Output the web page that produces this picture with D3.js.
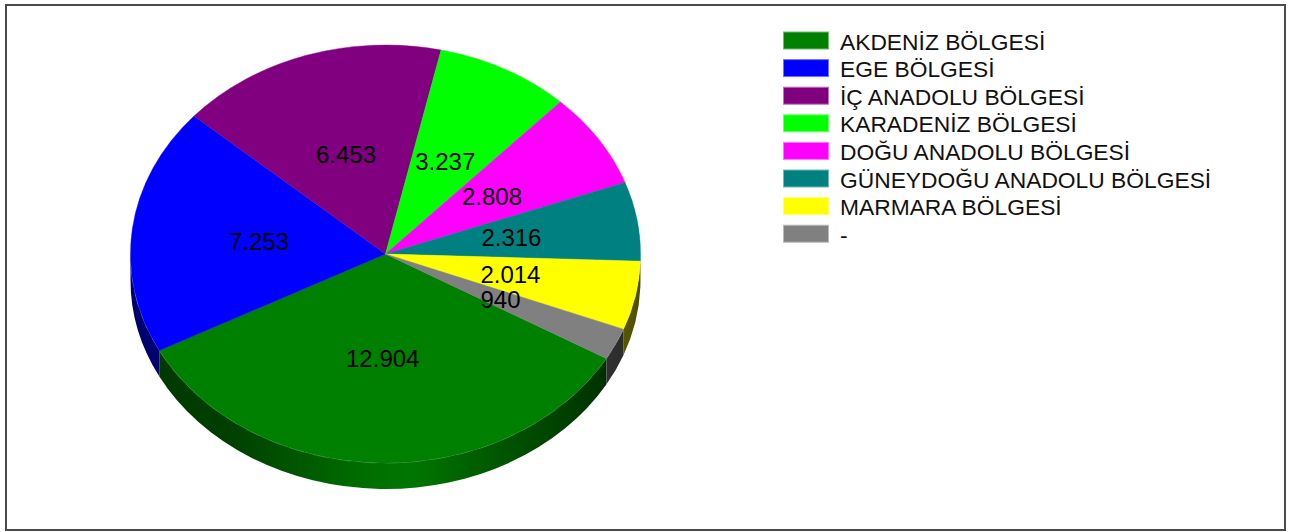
<!DOCTYPE html>
<html>
<head>
<meta charset="utf-8">
<script src="https://cdn.jsdelivr.net/npm/d3@7"></script>
<style>
  html, body { margin: 0; padding: 0; background: #fff; }
  svg { display: block; }
</style>
</head>
<body>
<script>
const categories = ["AKDENİZ BÖLGESİ", "EGE BÖLGESİ", "İÇ ANADOLU BÖLGESİ", "KARADENİZ BÖLGESİ",
  "DOĞU ANADOLU BÖLGESİ", "GÜNEYDOĞU ANADOLU BÖLGESİ", "MARMARA BÖLGESİ", "-"];
const values = [12904, 7253, 6453, 3237, 2808, 2316, 2014, 940];
const colors = ["#008000", "#0000ff", "#800080", "#00ff00", "#ff00ff", "#008080", "#ffff00", "#808080"];

(function () {
const W = 1299, H = 532;
const cx = 385.5, cy = 254, rx = 255, ry = 209, depth = 26;
const startDeg = 120;

const svg = d3.select("body").append("svg").attr("width", W).attr("height", H);

// frame
svg.append("rect").attr("x", 6).attr("y", 5).attr("width", 1279).attr("height", 525)
  .attr("fill", "#fff").attr("stroke", "#4a4a4a").attr("stroke-width", 2);

const locale = d3.formatLocale({ decimal: ",", thousands: ".", grouping: [3], currency: ["", ""] });
const fmt = locale.format(",");

const data = categories.map((c, i) => ({ name: c, value: values[i], color: colors[i] }));
const pie = d3.pie().sort(null).value(d => d.value)
  .startAngle(startDeg * Math.PI / 180).endAngle(startDeg * Math.PI / 180 + 2 * Math.PI);
const arcs = pie(data);

const px = a => cx + rx * Math.sin(a);
const py = (a, off) => cy - ry * Math.cos(a) + (off || 0);

const defs = svg.append("defs");

// side walls (front half only)
const fronts = [[Math.PI / 2, 3 * Math.PI / 2], [5 * Math.PI / 2, 7 * Math.PI / 2]];
const sides = svg.append("g");
arcs.forEach((d, i) => {
  const base = d3.rgb(d.data.color);
  const gid = "sg" + i;
  const g = defs.append("linearGradient").attr("id", gid).attr("gradientUnits", "userSpaceOnUse")
    .attr("x1", cx - rx).attr("x2", cx + rx).attr("y1", 0).attr("y2", 0);
  const stops = [[0, 0.42], [0.2, 0.5], [0.45, 0.85], [0.55, 0.92], [0.7, 0.7], [0.88, 0.45], [1, 0.3]];
  stops.forEach(([o, f]) => {
    const c = d3.rgb(base.r * f, base.g * f, base.b * f);
    g.append("stop").attr("offset", o).attr("stop-color", c.formatHex());
  });
  fronts.forEach(([f0, f1]) => {
    const b0 = Math.max(d.startAngle, f0), b1 = Math.min(d.endAngle, f1);
    if (b1 <= b0) return;
    const p = `M${px(b0)},${py(b0)} A${rx},${ry} 0 0 1 ${px(b1)},${py(b1)} ` +
      `L${px(b1)},${py(b1, depth)} A${rx},${ry} 0 0 0 ${px(b0)},${py(b0, depth)} Z`;
    sides.append("path").attr("d", p).attr("fill", `url(#${gid})`);
    sides.append("path")
      .attr("d", `M${px(b0)},${py(b0)} A${rx},${ry} 0 0 1 ${px(b1)},${py(b1)}`)
      .attr("fill", "none").attr("stroke", "rgba(255,255,255,0.25)")
      .attr("stroke-width", 1).attr("stroke-dasharray", "14,10");
  });
});

// top surface
const arcGen = d3.arc().innerRadius(0).outerRadius(rx);
const topG = svg.append("g").attr("transform", `translate(${cx},${cy}) scale(1,${ry / rx})`);
topG.selectAll("path").data(arcs).join("path")
  .attr("d", arcGen).attr("fill", d => d.data.color)
  .attr("stroke", d => d.data.color).attr("stroke-width", 0.5);

// labels
svg.append("g").selectAll("text").data(arcs).join("text")
  .attr("x", d => cx + arcGen.centroid(d)[0])
  .attr("y", d => cy + arcGen.centroid(d)[1] * ry / rx)
  .attr("text-anchor", "middle").attr("dominant-baseline", "central")
  .attr("font-family", "Arial, 'Liberation Sans', sans-serif").attr("font-size", 24)
  .attr("fill", "#000")
  .text(d => fmt(d.data.value));

// legend
const leg = svg.append("g").attr("transform", "translate(783,31.5)");
const rowH = 27.6;
const items = leg.selectAll("g").data(data).join("g")
  .attr("transform", (d, i) => `translate(0,${i * rowH})`);
items.append("rect").attr("x", 0.5).attr("y", 0.5).attr("width", 45).attr("height", 17)
  .attr("fill", d => d.color)
  .attr("stroke", d => { const c = d3.rgb(d.color); return d3.rgb(c.r + (255 - c.r) * 0.45, c.g + (255 - c.g) * 0.45, c.b + (255 - c.b) * 0.45).formatHex(); })
  .attr("stroke-width", 1);
items.append("text").attr("x", 57).attr("y", 10)
  .attr("dominant-baseline", "central")
  .attr("font-family", "Arial, 'Liberation Sans', sans-serif").attr("font-size", 22.8)
  .attr("fill", "#111")
  .text(d => d.name);
})();
</script>
</body>
</html>
